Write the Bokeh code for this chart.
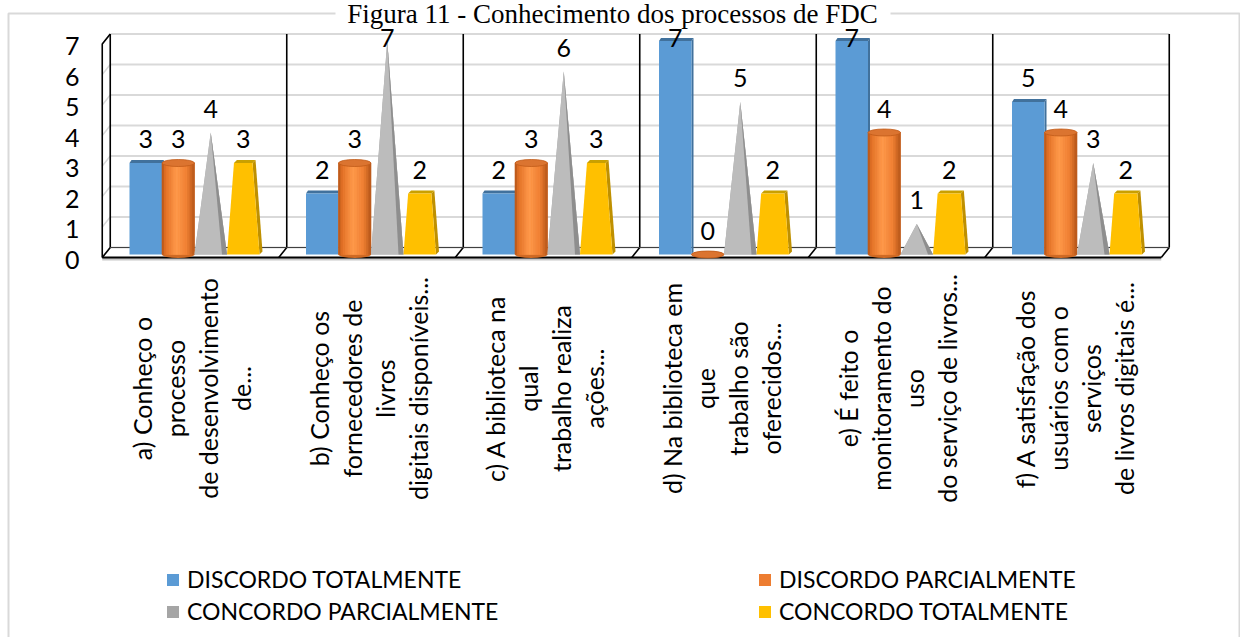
import numpy as np
from bokeh.plotting import figure
from bokeh.models import Range1d, Legend, LegendItem, Label
from bokeh.embed import file_html
from bokeh.resources import INLINE
from bokeh.core.properties import value

# ---------------- data ----------------
title_text = "Figura 11 - Conhecimento dos processos de FDC"
categories = [
    "a) Conheço o\nprocesso\nde desenvolvimento\nde...",
    "b) Conheço os\nfornecedores de\nlivros\ndigitais disponíveis...",
    "c) A biblioteca na\nqual\ntrabalho realiza\nações...",
    "d) Na biblioteca em\nque\ntrabalho são\noferecidos...",
    "e) É feito o\nmonitoramento do\nuso\ndo serviço de livros...",
    "f) A satisfação dos\nusuários com o\nserviços\nde livros digitais é...",
]
series_names = ["DISCORDO TOTALMENTE", "DISCORDO PARCIALMENTE",
                "CONCORDO PARCIALMENTE", "CONCORDO TOTALMENTE"]
discordo_totalmente = [3, 2, 2, 7, 7, 5]
discordo_parcialmente = [3, 3, 3, 0, 4, 4]
concordo_parcialmente = [4, 7, 6, 5, 1, 3]
concordo_totalmente = [3, 2, 3, 2, 2, 2]
y_ticks = [0, 1, 2, 3, 4, 5, 6, 7]

# ---------------- layout calibration ----------------
W, H = 1240, 637
PXX = 176.5   # pixels per category
PXY = 30.5    # pixels per unit
X0 = 194.0    # pixel x of first category centre
Y0 = 254.0    # pixel y of value 0


def px_x(px):
    return (px - X0) / PXX


def px_y(py):
    return (Y0 - py) / PXY


def dx(px):
    return px / PXX


def dy(px):
    return px / PXY


FONT = "Lato"
p = figure(width=W, height=H,
           x_range=Range1d(px_x(0), px_x(W)), y_range=Range1d(px_y(H), px_y(0)),
           output_backend="svg", toolbar_location=None, tools="",
           x_axis_location=None, y_axis_location=None, min_border=0,
           outline_line_color=None, background_fill_color="white",
           border_fill_color="white")
p.xgrid.visible = False
p.ygrid.visible = False

n = len(categories)
ymax = max(y_ticks)
xl, xr = -0.5, n - 0.5
bx, by = dx(4), dy(7)      # back wall offset
fx, fy = -dx(4), -dy(3)    # front edge offset

# outer chart border (top edge interrupted behind the title)
p.multi_line(xs=[[px_x(335), px_x(8), px_x(8)], [px_x(890), px_x(1239), px_x(1239)]],
             ys=[[px_y(13), px_y(13), px_y(H + 5)], [px_y(13), px_y(13), px_y(H + 5)]],
             line_color="#d9d9d9", line_width=2)

# back-wall gridlines and left-wall gridlines
p.segment(x0=[xl + bx] * len(y_ticks), y0=[t + by for t in y_ticks],
          x1=[xr + bx] * len(y_ticks), y1=[t + by for t in y_ticks],
          line_color="#d9d9d9", line_width=2)
p.segment(x0=[xl + fx] * len(y_ticks), y0=[t + fy for t in y_ticks],
          x1=[xl + bx] * len(y_ticks), y1=[t + by for t in y_ticks],
          line_color="#d9d9d9", line_width=1.5)

# floor slab
p.quad(left=[xl + fx], right=[xr + fx], top=[fy], bottom=[fy - dy(3)],
       fill_color="#c8c8c8", line_color=None)

# black frame lines
edges = [b - 0.5 for b in range(n + 1)]
p.segment(x0=[e + bx for e in edges], y0=[by] * len(edges),
          x1=[e + bx for e in edges], y1=[ymax + by] * len(edges),
          line_color="black", line_width=1.6)
p.segment(x0=[e + bx for e in edges], y0=[by] * len(edges),
          x1=[e + fx for e in edges], y1=[fy] * len(edges),
          line_color="black", line_width=1.6)
p.line([xl + bx, xr + bx], [by, by], line_color="#404040", line_width=1.2)
p.line([xl + fx, xr + fx], [fy, fy], line_color="black", line_width=1.8)
p.line([xl + fx, xl + fx, xl + bx], [fy, ymax + fy, ymax + by],
       line_color="black", line_width=1.6)

# ---------------- bars ----------------
bw = dx(32.5)
cx = [np.arange(n) + (k - 1.5) * bw for k in range(4)]
legend_colors = ["#5B9BD5", "#ED7D31", "#A5A5A5", "#FFC000"]
legend_renderers = []

# blue boxes
v = np.array(discordo_totalmente, dtype=float)
x0s, x1s = cx[0] - bw / 2, cx[0] + bw / 2
p.patches(xs=[[a, b, b + dx(2), a + dx(2)] for a, b in zip(x0s, x1s)],
          ys=[[t, t, t + dy(3), t + dy(3)] for t in v],
          fill_color="#41719C", line_color=None)
p.patches(xs=[[b, b + dx(2), b + dx(2), b] for b in x1s],
          ys=[[0, dy(3), t + dy(3), t] for t in v],
          fill_color="#41719C", line_color=None)
legend_renderers.append(p.quad(left=x0s, right=x1s, bottom=0, top=v,
                               fill_color=legend_colors[0], line_color=None))

# orange cylinders
v = np.array(discordo_parcialmente, dtype=float)
x0s, x1s = cx[1] - bw / 2, cx[1] + bw / 2
stops_pos = [0.0, 0.12, 0.45, 0.78, 1.0]
stops_col = [(0xB0, 0x52, 0x16), (0xE4, 0x72, 0x27), (0xFF, 0x9A, 0x4C),
             (0xF0, 0x80, 0x33), (0xB5, 0x56, 0x19)]
NS = 14
prof = []
for j in range(NS):
    t = (j + 0.5) / NS
    rgb = [int(np.interp(t, stops_pos, [c[i] for c in stops_col])) for i in range(3)]
    prof.append("#%02x%02x%02x" % tuple(rgb))
p.ellipse(x=cx[1], y=np.zeros(n), width=bw, height=dy(7),
          fill_color="#CF6A24", line_color=None)
legend_renderers.append(p.quad(left=x0s, right=x1s, bottom=0, top=v,
                               fill_color=legend_colors[1], line_color=None))
sl, sr, st, sc = [], [], [], []
for i in range(n):
    if v[i] <= 0:
        continue
    for j in range(NS):
        sl.append(x0s[i] + j * bw / NS)
        sr.append(x0s[i] + (j + 1) * bw / NS)
        st.append(v[i])
        sc.append(prof[j])
p.quad(left=sl, right=sr, bottom=0, top=st, fill_color=sc, line_color=sc,
       line_width=0.6)
p.ellipse(x=cx[1], y=v, width=bw, height=dy(7),
          fill_color="#DB7430", line_color="#C05A18", line_width=0.8)

# gray pyramids
v = np.array(concordo_parcialmente, dtype=float)
x0s, x1s = cx[2] - bw / 2, cx[2] + bw / 2
legend_renderers.append(p.patches(xs=[[a, b, c] for a, b, c in zip(x0s, x1s, cx[2])],
                                  ys=[[0, 0, t] for t in v],
                                  fill_color=legend_colors[2], line_color=None))
p.patches(xs=[[a, b, c] for a, b, c in zip(x0s, x1s, cx[2])],
          ys=[[0, 0, t] for t in v], fill_color="#BCBCBC", line_color=None)
p.patches(xs=[[c, b - dx(5), b] for b, c in zip(x1s, cx[2])],
          ys=[[t, 0, 0] for t in v], fill_color="#8E8E8E", line_color=None)

# yellow truncated pyramids (apex at axis maximum)
v = np.array(concordo_totalmente, dtype=float)
x0s, x1s = cx[3] - bw / 2, cx[3] + bw / 2
hw = (bw / 2) * (1 - v / ymax)
p.patches(xs=[[b, b + dx(3), c + h + dx(3), c + h] for b, c, h in zip(x1s, cx[3], hw)],
          ys=[[0, dy(3), t + dy(3), t] for t in v],
          fill_color="#BF9000", line_color=None)
p.patches(xs=[[c - h, c + h, c + h + dx(3), c - h + dx(3)] for c, h in zip(cx[3], hw)],
          ys=[[t, t, t + dy(3), t + dy(3)] for t in v],
          fill_color="#C9A000", line_color=None)
legend_renderers.append(p.patches(xs=[[a, b, c + h, c - h] for a, b, c, h in zip(x0s, x1s, cx[3], hw)],
                                  ys=[[0, 0, t, t] for t in v],
                                  fill_color=legend_colors[3], line_color=None))

# data labels
all_vals = [discordo_totalmente, discordo_parcialmente, concordo_parcialmente, concordo_totalmente]
lx, ly, lt = [], [], []
cap = ymax + dy(3.5)
for k, vals in enumerate(all_vals):
    for i, val in enumerate(vals):
        lx.append(cx[k][i])
        ly.append(min(val + dy(24), cap))
        lt.append(str(val))
p.text(x=lx, y=ly, text=lt, text_align="center", text_baseline="middle",
       text_font=value(FONT), text_font_size="25px", text_color="black")

# y tick labels
p.text(x=[xl + fx - dx(30)] * len(y_ticks), y=[t + fy for t in y_ticks],
       text=[str(t) for t in y_ticks], text_align="center", text_baseline="middle",
       y_offset=2, text_font=value(FONT), text_font_size="25px", text_color="black")

# category labels (rotated)
p.text(x=[i - dx(3) for i in range(n)], y=[px_y(388)] * n, text=categories,
       angle=np.pi / 2, text_align="center", text_baseline="middle",
       text_line_height=1.1, text_font=value(FONT), text_font_size="25px",
       text_color="black")

# title
p.add_layout(Label(x=px_x(612), y=px_y(13), text=title_text, text_align="center",
                   text_baseline="middle", text_font="Liberation Serif",
                   text_font_size="27px", text_color="black"))

# legend
legend = Legend(items=[LegendItem(label=s, renderers=[r]) for s, r in zip(series_names, legend_renderers)],
                orientation="horizontal", ncols=2, location=(165, 12),
                glyph_width=15, glyph_height=15, label_standoff=7, label_width=566,
                label_height=26, spacing=4, padding=0, margin=0,
                border_line_color=None, background_fill_alpha=0,
                label_text_font=FONT, label_text_font_size="23px",
                label_text_color="black")
p.add_layout(legend)

open("out.html", "w").write(file_html(p, INLINE))
